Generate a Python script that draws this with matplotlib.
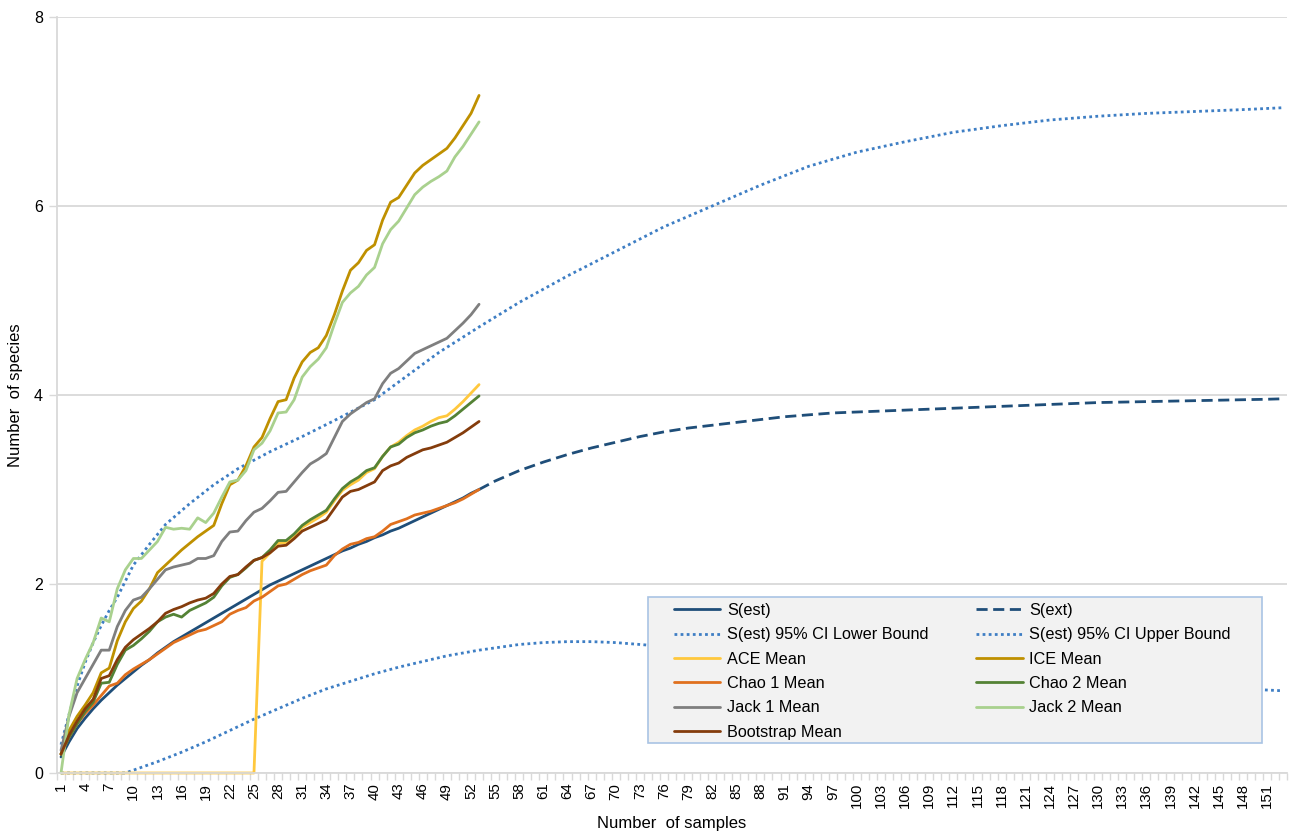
import matplotlib
matplotlib.use("Agg")
import matplotlib.pyplot as plt
from matplotlib.patches import Rectangle

plt.rcParams['font.family'] = ['Liberation Sans', 'DejaVu Sans']

# ---- data -------------------------------------------------------------
samples = list(range(1, 54))
n_categories = 153

s_est = [0.17, 0.33, 0.47, 0.58, 0.68, 0.77, 0.85, 0.93, 1.00, 1.07,
         1.14, 1.20, 1.27, 1.33, 1.39, 1.44, 1.49, 1.54, 1.59, 1.64,
         1.69, 1.74, 1.79, 1.84, 1.89, 1.94, 1.99, 2.03, 2.07, 2.11,
         2.15, 2.19, 2.23, 2.27, 2.31, 2.35, 2.38, 2.42, 2.45, 2.49,
         2.52, 2.56, 2.59, 2.63, 2.67, 2.71, 2.75, 2.79, 2.83, 2.87,
         2.91, 2.96, 3.00]

ext_x = [53, 55, 58, 61, 64, 67, 70, 73, 76, 79, 82, 85, 88, 91, 94, 97, 100,
         103, 106, 109, 112, 115, 118, 121, 124, 127, 130, 133, 136, 139, 142,
         145, 148, 151, 153]
s_ext = [3.00, 3.09, 3.20, 3.29, 3.37, 3.44, 3.50, 3.56, 3.61, 3.65, 3.68,
         3.71, 3.74, 3.77, 3.79, 3.81, 3.82, 3.83, 3.84, 3.85, 3.86, 3.87,
         3.88, 3.89, 3.90, 3.91, 3.92, 3.925, 3.93, 3.935, 3.94, 3.945,
         3.95, 3.955, 3.96]

lower_x = [1, 9, 10, 13, 16, 19, 22, 25, 28, 31, 34, 37, 40, 43, 46, 49, 53,
           58, 61, 64, 67, 70, 73, 76, 82, 88, 94, 100, 106, 112, 118, 124,
           130, 136, 142, 148, 153]
lower = [0.00, 0.00, 0.03, 0.12, 0.22, 0.33, 0.45, 0.57, 0.68, 0.79, 0.89,
         0.97, 1.05, 1.12, 1.18, 1.24, 1.30, 1.36, 1.38, 1.39, 1.39, 1.38,
         1.36, 1.34, 1.30, 1.25, 1.20, 1.15, 1.10, 1.06, 1.02, 0.99, 0.96,
         0.93, 0.91, 0.89, 0.87]

upper_x = [1, 2, 3, 4, 5, 6, 7, 8, 10, 12, 14, 17, 20, 23, 27, 31, 35, 40,
           44, 48, 53, 58, 64, 70, 76, 82, 88, 94, 100, 106, 112, 118, 124,
           130, 136, 142, 148, 153]
upper = [0.30, 0.62, 0.92, 1.17, 1.38, 1.56, 1.72, 1.86, 2.20, 2.42, 2.63,
         2.85, 3.05, 3.22, 3.40, 3.56, 3.73, 3.95, 4.20, 4.45, 4.72, 4.98,
         5.26, 5.52, 5.78, 6.00, 6.22, 6.42, 6.57, 6.68, 6.78, 6.85, 6.91,
         6.95, 6.98, 7.00, 7.02, 7.04]

ace = [0.00, 0.00, 0.00, 0.00, 0.00, 0.00, 0.00, 0.00, 0.00, 0.00,
       0.00, 0.00, 0.00, 0.00, 0.00, 0.00, 0.00, 0.00, 0.00, 0.00,
       0.00, 0.00, 0.00, 0.00, 0.00, 2.24, 2.33, 2.43, 2.44, 2.51,
       2.60, 2.65, 2.70, 2.76, 2.88, 2.99, 3.05, 3.10, 3.18, 3.22,
       3.35, 3.45, 3.50, 3.57, 3.63, 3.67, 3.72, 3.76, 3.78, 3.85,
       3.93, 4.02, 4.11]

ice = [0.20, 0.45, 0.60, 0.72, 0.85, 1.06, 1.11, 1.40, 1.60, 1.74,
       1.82, 1.95, 2.12, 2.20, 2.28, 2.36, 2.43, 2.50, 2.56, 2.62,
       2.85, 3.05, 3.10, 3.25, 3.45, 3.55, 3.75, 3.93, 3.95, 4.18,
       4.35, 4.45, 4.50, 4.63, 4.85, 5.10, 5.32, 5.40, 5.53, 5.59,
       5.85, 6.04, 6.09, 6.22, 6.35, 6.43, 6.49, 6.55, 6.61, 6.72,
       6.85, 6.98, 7.17]

chao1 = [0.20, 0.38, 0.52, 0.63, 0.72, 0.82, 0.92, 0.95, 1.04, 1.10,
         1.15, 1.20, 1.26, 1.32, 1.38, 1.42, 1.46, 1.50, 1.52, 1.56,
         1.60, 1.68, 1.72, 1.75, 1.82, 1.86, 1.92, 1.98, 2.00, 2.05,
         2.10, 2.14, 2.17, 2.20, 2.30, 2.37, 2.42, 2.44, 2.48, 2.50,
         2.56, 2.63, 2.66, 2.69, 2.73, 2.75, 2.77, 2.80, 2.83, 2.86,
         2.90, 2.95, 3.00]

chao2 = [0.20, 0.38, 0.52, 0.65, 0.75, 0.95, 0.96, 1.15, 1.30, 1.35,
         1.42, 1.50, 1.60, 1.65, 1.68, 1.65, 1.72, 1.76, 1.80, 1.86,
         1.98, 2.07, 2.10, 2.17, 2.25, 2.28, 2.36, 2.46, 2.46, 2.53,
         2.62, 2.68, 2.73, 2.78, 2.90, 3.01, 3.08, 3.13, 3.20, 3.23,
         3.35, 3.45, 3.48, 3.55, 3.60, 3.63, 3.67, 3.70, 3.72, 3.78,
         3.85, 3.92, 3.99]

jack1 = [0.24, 0.60, 0.85, 1.00, 1.15, 1.30, 1.30, 1.55, 1.72, 1.83,
         1.86, 1.95, 2.05, 2.15, 2.18, 2.20, 2.22, 2.27, 2.27, 2.30,
         2.45, 2.55, 2.56, 2.67, 2.76, 2.80, 2.88, 2.97, 2.98, 3.08,
         3.18, 3.27, 3.32, 3.38, 3.55, 3.72, 3.80, 3.86, 3.92, 3.96,
         4.12, 4.23, 4.28, 4.36, 4.44, 4.48, 4.52, 4.56, 4.60, 4.68,
         4.76, 4.85, 4.96]

jack2 = [0.00, 0.62, 1.00, 1.20, 1.38, 1.64, 1.60, 1.95, 2.15, 2.27,
         2.27, 2.36, 2.45, 2.60, 2.58, 2.59, 2.58, 2.70, 2.65, 2.75,
         2.92, 3.08, 3.10, 3.20, 3.42, 3.49, 3.62, 3.81, 3.82, 3.95,
         4.19, 4.30, 4.38, 4.50, 4.75, 4.98, 5.08, 5.15, 5.27, 5.35,
         5.60, 5.75, 5.84, 5.98, 6.12, 6.20, 6.26, 6.31, 6.37, 6.52,
         6.63, 6.76, 6.89]

bootstrap = [0.20, 0.40, 0.55, 0.68, 0.78, 1.00, 1.03, 1.20, 1.33, 1.41,
             1.47, 1.53, 1.60, 1.69, 1.73, 1.76, 1.80, 1.83, 1.85, 1.90,
             2.00, 2.08, 2.10, 2.18, 2.25, 2.28, 2.33, 2.40, 2.41, 2.48,
             2.56, 2.60, 2.64, 2.68, 2.80, 2.92, 2.98, 3.00, 3.04, 3.08,
             3.20, 3.25, 3.28, 3.34, 3.38, 3.42, 3.44, 3.47, 3.50, 3.55,
             3.60, 3.66, 3.72]

x_tick_positions = list(range(1, 152, 3))
x_tick_labels = [str(v) for v in x_tick_positions]
y_ticks = [0, 2, 4, 6, 8]

# ---- styles -----------------------------------------------------------
LW = 2.0
DOT = (0, (1, 1.2))
DASH = (0, (4, 2))
C_EST = '#1F4E79'
C_CI = '#3E7EC4'

fig = plt.figure(figsize=(12.92, 8.39), dpi=100)
ax = fig.add_axes([57 / 1292, 1 - 773 / 839, 1230 / 1292, 756 / 839])

series = [
    (samples, s_est, 'S(est)', C_EST, '-'),
    (ext_x, s_ext, 'S(ext)', C_EST, DASH),
    (lower_x, lower, 'S(est) 95% CI Lower Bound', C_CI, DOT),
    (upper_x, upper, 'S(est) 95% CI Upper Bound', C_CI, DOT),
    (samples, ace, 'ACE Mean', '#FFC83D', '-'),
    (samples, ice, 'ICE Mean', '#BF9000', '-'),
    (samples, chao1, 'Chao 1 Mean', '#E0701E', '-'),
    (samples, chao2, 'Chao 2 Mean', '#548235', '-'),
    (samples, jack1, 'Jack 1 Mean', '#7F7F7F', '-'),
    (samples, jack2, 'Jack 2 Mean', '#A9D18E', '-'),
    (samples, bootstrap, 'Bootstrap Mean', '#843C0C', '-'),
]

handles = {}
for xs, ys, label, color, ls in series:
    line, = ax.plot(xs, ys, color=color, lw=LW, linestyle=ls,
                    solid_capstyle='round', dash_capstyle='butt', label=label,
                    clip_on=False)
    handles[label] = line

# ---- axes ---------------------------------------------------------------
ax.set_xlim(0.5, n_categories + 0.5)
ax.set_ylim(0, 8)
ax.set_yticks(y_ticks)
ax.set_yticklabels([str(v) for v in y_ticks], fontsize=11.5)
ax.set_xticks(x_tick_positions)
ax.set_xticklabels(x_tick_labels, rotation=90, fontsize=10.8)
ax.set_xticks([k + 0.5 for k in range(0, n_categories + 1)], minor=True)
ax.tick_params(axis='x', which='major', length=0, pad=7)
ax.tick_params(axis='x', which='minor', length=5, color='#D9D9D9', width=1)
ax.tick_params(axis='y', length=6, color='#D9D9D9', width=1, pad=4)
ax.grid(axis='y', color='#D9D9D9', lw=1.3)
ax.set_axisbelow(True)
for side in ('top', 'right'):
    ax.spines[side].set_visible(False)
for side in ('left', 'bottom'):
    ax.spines[side].set_color('#D9D9D9')
    ax.spines[side].set_linewidth(1.3)

ax.set_xlabel('Number  of samples', fontsize=12, labelpad=6)
ax.set_ylabel('Number  of species', fontsize=12, labelpad=8)

# ---- legend -------------------------------------------------------------
frame = Rectangle((648 / 1292, 1 - 743 / 839), 614 / 1292, 146 / 839,
                  transform=fig.transFigure, facecolor='#F2F2F2',
                  edgecolor='#A9C4E4', lw=1.2, zorder=4.5, clip_on=False)
ax.add_artist(frame)

order = ['S(est)', 'S(est) 95% CI Lower Bound', 'ACE Mean', 'Chao 1 Mean',
         'Jack 1 Mean', 'Bootstrap Mean',
         'S(ext)', 'S(est) 95% CI Upper Bound', 'ICE Mean', 'Chao 2 Mean',
         'Jack 2 Mean']
leg = ax.legend([handles[k] for k in order], order, ncol=2,
                loc='upper left', bbox_to_anchor=(674 / 1292, 1 - 603 / 839),
                bbox_transform=fig.transFigure, frameon=False, fontsize=11.7,
                borderpad=0, borderaxespad=0, handlelength=2.85,
                handletextpad=0.4, labelspacing=0.575, columnspacing=2.95)
leg.set_zorder(5)

fig.savefig('out.png', dpi=100)
